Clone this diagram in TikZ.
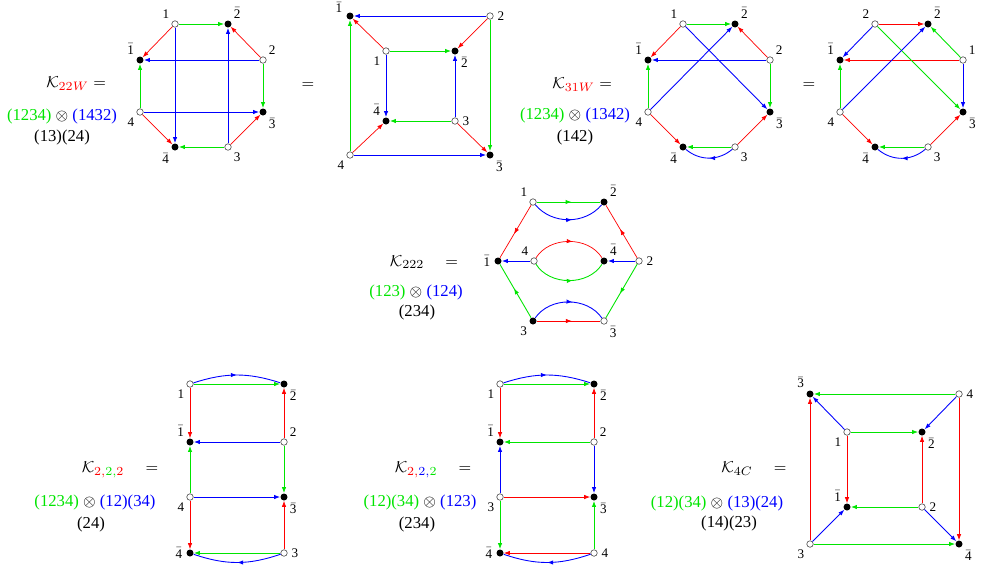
\documentclass[tikz,border=0pt]{standalone}
\usepackage{fontspec}
\setmainfont{Liberation Serif}
\usetikzlibrary{arrows.meta,decorations.markings}

\definecolor{gc}{rgb}{0,0.9,0}
\newcommand{\barl}[1]{$\bar{\mbox{#1}}$}

\tikzset{
    opn/.style={circle, draw=black!70, fill=white, line width=0.35pt, inner sep=0pt, minimum size=1.3mm},
    fil/.style={circle, fill=black, inner sep=0pt, minimum size=1.4mm},
    lbl/.style={font=\fontsize{7.5}{8}\selectfont, inner sep=0.6pt},
    txt/.style={font=\fontsize{9.5}{11}\selectfont, inner sep=1pt},
    rd/.style={draw=red, line width=0.4pt},
    gn/.style={draw=gc, line width=0.5pt},
    bl/.style={draw=blue, line width=0.5pt},
    marr/.style={postaction={decorate},
        decoration={markings, mark=at position #1 with {\arrow{>}}}},
    marr/.default=0.55,
}

\begin{document}
\begin{tikzpicture}[x=0.02cm, y=-0.02cm,
    >={Latex[length=3.4pt,width=2.5pt]},
    every label/.style={lbl}, label distance=1.5pt]
\useasboundingbox (0,0) rectangle (982,569);

% --- K_22W: octagon ---
\foreach \n/\x/\y/\s/\p/\t in {A1/175/24/opn/above left/1, A2b/228/24/fil/above right/\barl{2},
        A2/263/60/opn/above right/2, A1b/140/60/fil/above left/\barl{1},
        A4/140/112/opn/below left/4, A3b/263/112/fil/below right/\barl{3},
        A4b/175/147/fil/below left/\barl{4}, A3/228/147/opn/below right/3}
    \node[\s, label=\p:\t] (\n) at (\x,\y) {};
\foreach \a/\b in {A1/A1b, A2/A2b, A3/A3b, A4/A4b}
    \draw[rd, ->] (\a) -- (\b);
\foreach \a/\b in {A1/A2b, A2/A3b, A3/A4b, A4/A1b}
    \draw[gn, ->] (\a) -- (\b);
\foreach \a/\b in {A1/A4b, A2/A1b, A3/A2b, A4/A3b}
    \draw[bl, ->] (\a) -- (\b);
\node[txt, anchor=east] (kA) at (108,84) {$\mathcal{K}_{\textcolor{red}{22W}}=$};
\node[txt] (pA) at (62,116) {\textcolor{gc}{(1234)} $\otimes$ \textcolor{blue}{(1432)}};
\node[txt] (cA) at (62,137) {(13)(24)};

% --- same graph as a cube ---
\node[txt] (eqB) at (308,86) {$=$};
\foreach \n/\x/\y/\s/\p/\t in {B1b/350/16/fil/165/\barl{1}, B2/490/16/opn/right/2,
        B1/386/51/opn/below left/1, B2b/455/51/fil/below right/\barl{2},
        B4b/386/121/fil/above left/\barl{4}, B3/455/121/opn/right/3,
        B4/350/155/opn/below left/4, B3b/490/155/fil/below right/\barl{3}}
    \node[\s, label=\p:\t] (\n) at (\x,\y) {};
\foreach \a/\b in {B1/B1b, B2/B2b, B3/B3b, B4/B4b}
    \draw[rd, ->] (\a) -- (\b);
\foreach \a/\b in {B4/B1b, B2/B3b, B1/B2b, B3/B4b}
    \draw[gn, ->] (\a) -- (\b);
\foreach \a/\b in {B2/B1b, B4/B3b, B1/B4b, B3/B2b}
    \draw[bl, ->] (\a) -- (\b);

% --- K_31W ---
\foreach \n/\x/\y/\s/\p/\t in {C1/683/24/opn/above left/1, C2b/735/24/fil/above right/\barl{2},
        C2/770/60/opn/above right/2, C1b/648/60/fil/above left/\barl{1},
        C4/648/112/opn/below left/4, C3b/770/112/fil/below right/\barl{3},
        C4b/683/147/fil/below left/\barl{4}, C3/735/147/opn/below right/3}
    \node[\s, label=\p:\t] (\n) at (\x,\y) {};
\foreach \a/\b in {C1/C1b, C2/C2b, C3/C3b, C4/C4b}
    \draw[rd, ->] (\a) -- (\b);
\foreach \a/\b in {C1/C2b, C2/C3b, C3/C4b, C4/C1b}
    \draw[gn, ->] (\a) -- (\b);
\foreach \a/\b in {C1/C3b, C2/C1b, C4/C2b}
    \draw[bl, ->] (\a) -- (\b);
\draw[bl, marr=0.5] (C3) to[bend left=40] (C4b);
\node[txt, anchor=east] (kC) at (614,85) {$\mathcal{K}_{\textcolor{red}{31W}}=$};
\node[txt] (pC) at (575,115) {\textcolor{gc}{(1234)} $\otimes$ \textcolor{blue}{(1342)}};
\node[txt] (cC) at (575,137) {(142)};

% --- same graph, relabelled ---
\node[txt] (eqD) at (809,86) {$=$};
\foreach \n/\x/\y/\s/\p/\t in {D2/875/24/opn/above left/2, D2b/928/24/fil/above right/\barl{2},
        D1/963/60/opn/above right/1, D1b/840/60/fil/above left/\barl{1},
        D4/840/112/opn/below left/4, D3b/963/112/fil/below right/\barl{3},
        D4b/875/147/fil/below left/\barl{4}, D3/928/147/opn/below right/3}
    \node[\s, label=\p:\t] (\n) at (\x,\y) {};
\foreach \a/\b in {D1/D1b, D2/D2b, D3/D3b, D4/D4b}
    \draw[rd, ->] (\a) -- (\b);
\foreach \a/\b in {D1/D2b, D2/D3b, D3/D4b, D4/D1b}
    \draw[gn, ->] (\a) -- (\b);
\foreach \a/\b in {D2/D1b, D1/D3b, D4/D2b}
    \draw[bl, ->] (\a) -- (\b);
\draw[bl, marr=0.5] (D3) to[bend left=40] (D4b);

% --- K_222: hexagon ---
\foreach \n/\x/\y/\s/\p/\t in {E1/533/202/opn/above left/1, E2b/604/202/fil/above right/\barl{2},
        E1b/498/261/fil/left/\barl{1}, E4/534/261/opn/above left/4,
        E4b/604/261/fil/above right/\barl{4}, E2/639/261/opn/right/2,
        E3/533/321/fil/below left/3, E3b/604/321/opn/below right/\barl{3}}
    \node[\s, label=\p:\t] (\n) at (\x,\y) {};
\foreach \a/\b in {E1/E1b, E2/E2b, E3/E3b}
    \draw[rd, marr] (\a) -- (\b);
\draw[rd, marr] (E4) to[bend left=58] (E4b);
\foreach \a/\b in {E1/E2b, E2/E3b, E3/E1b}
    \draw[gn, marr] (\a) -- (\b);
\draw[gn, marr] (E4) to[bend right=58] (E4b);
\draw[bl, marr] (E1) to[bend right=50] (E2b);
\draw[bl, marr] (E3) to[bend left=55] (E3b);
\foreach \a/\b in {E2/E4b, E4/E1b}
    \draw[bl, ->] (\a) -- (\b);
\node[txt] (kE) at (424,262) {$\mathcal{K}_{222}\quad=$};
\node[txt] (pE) at (416,292) {\textcolor{gc}{(123)} $\otimes$ \textcolor{blue}{(124)}};
\node[txt] (cE) at (417,312) {(234)};

% --- K_2,2,2: first ladder ---
\foreach \n/\x/\y/\s/\p/\t in {F1/190/384/opn/below left/1, F2b/284/384/fil/below right/\barl{2},
        F1b/190/442/fil/above left/\barl{1}, F2/284/442/opn/above right/2,
        F4/190/497/opn/below left/4, F3b/284/497/fil/below right/\barl{3},
        F4b/190/553/fil/left/\barl{4}, F3/284/553/opn/right/3}
    \node[\s, label=\p:\t] (\n) at (\x,\y) {};
\foreach \a/\b in {F1/F1b, F2/F2b, F3/F3b, F4/F4b}
    \draw[rd, ->] (\a) -- (\b);
\foreach \a/\b in {F1/F2b, F2/F3b, F3/F4b, F4/F1b}
    \draw[gn, ->] (\a) -- (\b);
\foreach \a/\b in {F2/F1b, F4/F3b}
    \draw[bl, ->] (\a) -- (\b);
\draw[bl, marr=0.5] (F1) to[bend left=18] (F2b);
\draw[bl, marr=0.5] (F3) to[bend left=19] (F4b);
\node[txt] (kF) at (120,470) {$\mathcal{K}_{\textcolor{red}{2,}\textcolor{gc}{2,}\textcolor{red}{2}}\quad=$};
\node[txt] (pF) at (95,502) {\textcolor{gc}{(1234)} $\otimes$ \textcolor{blue}{(12)(34)}};
\node[txt] (cF) at (91,524) {(24)};

% --- K_2,2,2: second ladder ---
\foreach \n/\x/\y/\s/\p/\t in {G1/500/384/opn/below left/1, G2b/594/384/fil/below right/\barl{2},
        G1b/500/442/fil/above left/\barl{1}, G2/594/442/opn/above right/2,
        G3/500/497/opn/below left/3, G3b/594/497/fil/below right/\barl{3},
        G4b/500/553/fil/left/\barl{4}, G4/594/553/opn/right/4}
    \node[\s, label=\p:\t] (\n) at (\x,\y) {};
\foreach \a/\b in {G1/G1b, G2/G2b, G3/G3b, G4/G4b}
    \draw[rd, ->] (\a) -- (\b);
\foreach \a/\b in {G1/G2b, G2/G1b, G3/G4b, G4/G3b}
    \draw[gn, ->] (\a) -- (\b);
\foreach \a/\b in {G2/G3b, G3/G1b}
    \draw[bl, ->] (\a) -- (\b);
\draw[bl, marr=0.5] (G1) to[bend left=18] (G2b);
\draw[bl, marr=0.5] (G4) to[bend left=19] (G4b);
\node[txt] (kG) at (433,470) {$\mathcal{K}_{\textcolor{red}{2,}\textcolor{blue}{2,}\textcolor{gc}{2}}\quad=$};
\node[txt] (pG) at (420,502) {\textcolor{gc}{(12)(34)} $\otimes$ \textcolor{blue}{(123)}};
\node[txt] (cG) at (417,524) {(234)};

% --- K_4C: cube ---
\foreach \n/\x/\y/\s/\p/\t in {H3b/810/394/fil/above left/\barl{3}, H4/959/394/opn/right/4,
        H1/847/432/opn/below left/1, H2b/922/432/fil/below right/\barl{2},
        H1b/847/507/fil/above left/\barl{1}, H2/922/507/opn/right/2,
        H3/810/544/opn/below left/3, H4b/959/544/fil/below right/\barl{4}}
    \node[\s, label=\p:\t] (\n) at (\x,\y) {};
\foreach \a/\b in {H1/H1b, H2/H2b, H3/H3b, H4/H4b}
    \draw[rd, ->] (\a) -- (\b);
\foreach \a/\b in {H1/H2b, H2/H1b, H3/H4b, H4/H3b}
    \draw[gn, ->] (\a) -- (\b);
\foreach \a/\b in {H1/H3b, H3/H1b, H2/H4b, H4/H2b}
    \draw[bl, ->] (\a) -- (\b);
\node[txt] (kH) at (754,469) {$\mathcal{K}_{4C}\quad=$};
\node[txt] (pH) at (717,503) {\textcolor{gc}{(12)(34)} $\otimes$ \textcolor{blue}{(13)(24)}};
\node[txt] (cH) at (729,523) {(14)(23)};

\end{tikzpicture}
\end{document}
